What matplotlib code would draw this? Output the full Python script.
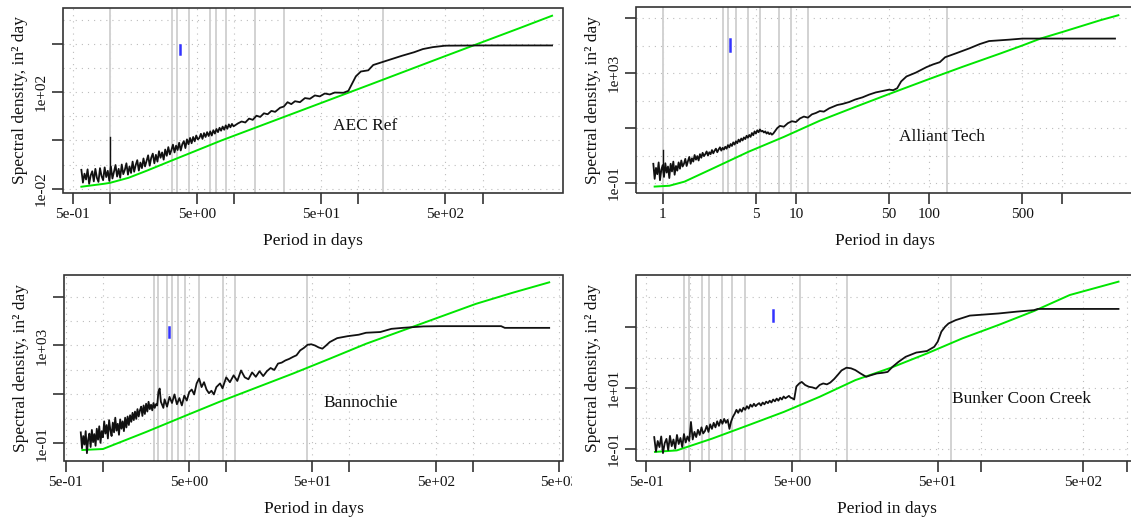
import numpy as np
import matplotlib
matplotlib.use("Agg")
import matplotlib.pyplot as plt
from matplotlib.patches import Rectangle
from matplotlib.ticker import NullLocator
from matplotlib.transforms import Bbox

plt.rcParams['font.family'] = ['Liberation Serif', 'DejaVu Serif']

# ---------------- data (log10 period in days, log10 spectral density) ----------------
# AEC Ref
aec_noise_span = (-0.23, 0.995)
aec_noise_logS = [-1.22, -1.75, -1.38, -1.62, -1.20, -1.80, -1.45, -1.28, -1.70, -1.18,
                  -1.55, -1.72, -1.15, -1.48, -1.65, -1.12, -1.52, -1.26, -1.68,
                  -1.08, -1.58, -1.30, -1.02, -1.50, -1.18, -1.55, -1.00, -1.40, -1.22,
                  -0.95, -1.42, -1.08, -1.35, -0.88, -1.30, -1.02, -0.82, -1.25, -0.92,
                  -1.15, -0.75, -1.08, -0.85,
                  -0.62, -1.05, -0.72, -0.55, -0.95, -0.60, -0.88, -0.45, -0.72, -0.50,
                  -0.80, -0.38, -0.64, -0.28, -0.58, -0.40, -0.18, -0.50, -0.22, -0.40,
                  -0.10, -0.42, -0.16, -0.03, -0.32, 0.04, -0.16, 0.10, -0.12, 0.14,
                  -0.04, 0.20, 0.04, 0.10, 0.27, 0.06, 0.30, 0.14, 0.34, 0.18,
                  0.37, 0.20, 0.42, 0.28, 0.47, 0.34, 0.52, 0.40, 0.57, 0.44, 0.62, 0.48,
                  0.66, 0.54, 0.68, 0.58]
aec_logp = [1.03, 1.06, 1.09, 1.12, 1.15, 1.18, 1.21, 1.24, 1.27, 1.30, 1.33, 1.37, 1.40,
            1.43, 1.46, 1.49, 1.53, 1.57, 1.61, 1.65, 1.69, 1.73, 1.77, 1.81, 1.88, 1.92,
            1.95, 1.98, 2.02, 2.08, 2.12, 2.18, 2.26, 2.35, 2.45, 2.52, 2.60, 2.70, 3.00, 3.56]
aec_logS = [0.70, 0.78, 0.74, 0.90, 0.85, 1.02, 0.97, 1.12, 1.08, 1.22, 1.18, 1.35, 1.40,
            1.58, 1.50, 1.62, 1.58, 1.75, 1.72, 1.86, 1.82, 1.94, 1.90, 1.98, 1.97, 2.05,
            2.35, 2.65, 2.85, 2.90, 3.12, 3.22, 3.35, 3.50, 3.65, 3.78, 3.86, 3.92, 3.93, 3.93]
aec_green_logp = [-0.23, -0.05, 0.0, 0.15, 0.30, 0.50, 0.90, 1.50, 2.10, 2.70, 3.30, 3.56]
aec_green_logS = [-1.92, -1.80, -1.76, -1.55, -1.25, -0.83, 0.00, 1.16, 2.32, 3.49, 4.65, 5.16]
aec_peak = (1.0, -1.35, 0.13)
aec_periods = [1.0, 3.17, 3.46, 4.3, 6.45, 7.15, 8.65, 14.6, 25.1, 157]
aec_ci = (3.66, 3.57, 3.96)

# Alliant Tech
all_noise_span = (-0.07, 0.83)
all_noise_logS = [-0.30, -0.85, -0.45, -0.68, -0.25, -0.90, -0.52, -0.35, -0.78, -0.28,
                  -0.62, -0.40, -0.82, -0.30, -0.58, -0.22, -0.70, -0.38,
                  -0.55, -0.25, -0.48, -0.18, -0.40, -0.30, -0.12, -0.38, -0.20, -0.05,
                  -0.30, -0.10, -0.22, 0.02, -0.15, -0.02, -0.18, 0.05,
                  -0.08, 0.10, -0.02, 0.05, 0.15, 0.00, 0.12, 0.05, 0.20, 0.08,
                  0.18, 0.25, 0.12, 0.22, 0.30, 0.18, 0.28, 0.22,
                  0.32, 0.25, 0.38, 0.30, 0.42, 0.35, 0.48, 0.40, 0.52, 0.45,
                  0.58, 0.50, 0.62, 0.55, 0.66, 0.60, 0.72, 0.65,
                  0.75, 0.68, 0.82, 0.74, 0.88, 0.80, 0.92, 0.85, 0.95, 0.88,
                  0.90, 0.84, 0.88, 0.80, 0.85, 0.78, 0.82, 0.76, 0.80]
all_logp = [0.86, 0.88, 0.91, 0.94, 0.97, 1.00, 1.03, 1.06, 1.09, 1.12, 1.15, 1.18, 1.21,
            1.25, 1.28, 1.31, 1.35, 1.40, 1.445, 1.50, 1.55, 1.60, 1.65, 1.70, 1.73, 1.76,
            1.79, 1.83, 1.90, 1.98, 2.03, 2.08, 2.12, 2.20, 2.30, 2.38, 2.45, 2.60, 2.70, 3.395]
all_logS = [1.00, 1.08, 1.05, 1.18, 1.25, 1.22, 1.35, 1.42, 1.38, 1.50, 1.55, 1.62, 1.60,
            1.72, 1.78, 1.84, 1.88, 1.95, 2.04, 2.12, 2.22, 2.30, 2.35, 2.40, 2.38, 2.45,
            2.70, 2.88, 3.02, 3.22, 3.32, 3.40, 3.58, 3.72, 3.90, 4.06, 4.17, 4.22, 4.26, 4.26]
all_green_logp = [-0.06, 0.05, 0.164, 0.377, 0.645, 0.91, 1.18, 1.445, 1.71, 1.98, 2.25, 2.536, 2.706, 2.836, 3.0, 3.286, 3.42]
all_green_logS = [-1.13, -1.10, -0.95, -0.47, 0.14, 0.68, 1.27, 1.77, 2.26, 2.75, 3.23, 3.72, 4.02, 4.26, 4.50, 4.93, 5.11]
all_peak = (1.0, -0.6, 0.2)
all_periods = [1.0, 2.85, 3.08, 3.53, 4.34, 5.38, 7.43, 9.2, 12.4, 135]
all_ci = (3.22, 3.82, 4.24)

# Bannochie
ban_noise_span = (-0.18, 0.43)
ban_noise_logS = [-0.55, -1.20, -0.70, -1.05, -0.50, -1.40, -0.85, -0.60, -1.15, -0.45,
                  -0.95, -0.62, -1.10, -0.40, -0.85, -0.30, -0.98, -0.50,
                  -0.75, -0.10, -0.60, -0.25, -0.80, -0.05, -0.45, -0.70, -0.15, -0.55,
                  0.05, -0.48, -0.20, -0.65, -0.02, -0.40, -0.10, -0.50,
                  0.05, -0.35, 0.10, -0.25, 0.15, -0.12, 0.25, -0.05, 0.30, 0.00,
                  0.40, 0.10, 0.35, 0.50, 0.12, 0.55, 0.20,
                  0.62, 0.30, 0.70, 0.40, 0.58, 0.35, 0.65, 0.45, 0.60]
ban_logp = [0.44, 0.45, 0.46, 0.47, 0.49, 0.50, 0.52, 0.54, 0.56, 0.58, 0.60, 0.62, 0.64,
            0.66, 0.68, 0.70, 0.72, 0.74, 0.76, 0.78, 0.80, 0.82, 0.84, 0.86, 0.88, 0.90,
            0.92, 0.95, 0.97, 1.00, 1.03, 1.06, 1.09, 1.12, 1.15, 1.18, 1.21, 1.24, 1.27,
            1.30, 1.33, 1.36, 1.39, 1.42, 1.45, 1.48, 1.51, 1.54, 1.57, 1.60, 1.63, 1.66,
            1.69, 1.72, 1.75, 1.78, 1.81, 1.84, 1.90, 1.985, 2.075, 2.134, 2.25, 2.34,
            2.43, 2.60, 2.73, 3.23, 3.26, 3.62]
ban_logS = [0.55, 1.10, 1.24, 0.70, 0.45, 0.80, 0.50, 0.90, 0.65, 1.00, 0.60, 0.85, 0.55,
            0.95, 0.75, 1.10, 1.20, 1.00, 1.45, 1.65, 1.30, 1.50, 1.20, 1.05, 1.15, 1.00,
            1.30, 1.45, 1.25, 1.70, 1.50, 1.78, 1.55, 1.98, 1.70, 1.62, 1.90, 1.72, 1.95,
            1.75, 1.95, 2.08, 2.00, 2.26, 2.30, 2.39, 2.45, 2.53, 2.60, 2.80, 2.90, 3.03,
            3.05, 3.00, 2.92, 2.87, 3.00, 3.14, 3.30, 3.38, 3.44, 3.52, 3.55, 3.68,
            3.72, 3.78, 3.79, 3.79, 3.72, 3.72]
ban_green_logp = [-0.167, 0.0, 0.352, 0.65, 0.946, 1.24, 1.54, 1.84, 2.134, 2.43, 2.73, 3.025, 3.32, 3.62]
ban_green_logS = [-1.27, -1.23, -0.53, 0.09, 0.70, 1.27, 1.85, 2.46, 3.07, 3.61, 4.16, 4.70, 5.15, 5.58]
ban_periods = [2.58, 2.80, 3.28, 3.63, 4.08, 4.62, 6.07, 9.46, 11.8, 45]
ban_ci = (3.46, 3.34, 3.75)

# Bunker Coon Creek
bun_noise_span = (-0.245, 0.715)
bun_noise_logS = [-0.62, -1.10, -0.75, -0.95, -0.60, -1.15, -0.82, -0.68, -1.05, -0.58,
                  -0.92, -0.70, -1.00, -0.55, -0.85, -0.65, -0.95, -0.52, -0.80, -0.60,
                  -0.75, -0.12, -0.70, -0.45, -0.62, -0.38, -0.55, -0.30, -0.50, -0.42,
                  -0.25, -0.45, -0.20, -0.35, -0.15, -0.30, -0.10, -0.25, -0.05, -0.18,
                  -0.02, -0.15, -0.05, -0.35, -0.10, 0.05, 0.15, 0.28, 0.18, 0.30,
                  0.22, 0.35, 0.28, 0.40, 0.32, 0.45, 0.38, 0.48, 0.40, 0.46,
                  0.50, 0.42, 0.52, 0.46, 0.55, 0.50, 0.58, 0.52, 0.62, 0.56,
                  0.65, 0.58, 0.68, 0.62, 0.72, 0.66, 0.70, 0.74, 0.68, 0.66, 0.62]
bun_logp = [0.73, 0.75, 0.767, 0.79, 0.816, 0.84, 0.865, 0.89, 0.914, 0.94, 0.963, 0.99,
            1.012, 1.04, 1.074, 1.105, 1.135, 1.17, 1.209, 1.24, 1.283, 1.32, 1.356, 1.39,
            1.43, 1.48, 1.553, 1.626, 1.676, 1.70, 1.725, 1.75, 1.774, 1.823, 1.92, 2.117,
            2.24, 2.36, 2.387, 2.94]
bun_logS = [1.05, 1.15, 1.20, 1.10, 1.04, 1.02, 0.98, 1.10, 1.15, 1.12, 1.18, 1.30,
            1.42, 1.58, 1.67, 1.65, 1.59, 1.48, 1.37, 1.42, 1.48, 1.50, 1.53, 1.70,
            1.86, 2.03, 2.17, 2.22, 2.36, 2.53, 2.86, 3.02, 3.13, 3.24, 3.39, 3.46,
            3.52, 3.57, 3.61, 3.61]
bun_green_logp = [-0.24, -0.09, 0.153, 0.40, 0.644, 0.89, 1.135, 1.38, 1.626, 1.87, 2.117, 2.36, 2.606, 2.94]
bun_green_logS = [-1.11, -1.06, -0.67, -0.23, 0.21, 0.71, 1.26, 1.67, 2.14, 2.64, 3.08, 3.54, 4.07, 4.51]
bun_periods = [0.916, 0.99, 1.21, 1.35, 1.66, 1.94, 2.37, 5.69, 12.0, 61.8]
bun_ci = (3.72, 3.21, 3.57)

W, H = 1131, 525
fig = plt.figure(figsize=(W / 100, H / 100), dpi=100)
INK = '#333333'


def panel(box, xlim, ylim, noise_span, noise_logS, logp, logS, g_logp, g_logS,
          periods, ci, name, name_xy, xticks, xlabels, yticks, ylabels, peak=None):
    l, t, r, b = box
    ax = fig.add_axes([l / W, 1 - b / H, (r - l) / W, (b - t) / H])
    ax.set_xscale('log')
    ax.set_yscale('log')
    ax.set_xlim(10 ** xlim[0], 10 ** xlim[1])
    ax.set_ylim(10 ** ylim[0], 10 ** ylim[1])
    for s in ax.spines.values():
        s.set_visible(False)
    ax.add_patch(Rectangle((0, 0), 1, 1, transform=ax.transAxes, fill=False,
                           edgecolor=INK, lw=1.2, clip_on=False, zorder=6))

    # dotted grid
    for d in range(int(np.floor(ylim[0])), int(np.ceil(ylim[1])) + 1):
        ax.axhline(10.0 ** d, color='#bdbdbd', lw=0.8, ls=(0, (1, 4.5)), zorder=0)
    for xt in xticks:
        ax.axvline(xt, color='#bdbdbd', lw=0.8, ls=(0, (1, 4.5)), zorder=0)

    # marked periods
    for p in periods:
        ax.axvline(p, color='#d2d2d2', lw=1.4, zorder=1)

    # spectrum
    nx = np.linspace(noise_span[0], noise_span[1], len(noise_logS))
    xs = 10 ** np.concatenate([nx, logp])
    ys = 10 ** np.concatenate([noise_logS, logS])
    ax.plot(10 ** np.array(g_logp), 10 ** np.array(g_logS), color='#00e600', lw=1.4, zorder=2)
    ax.plot(xs, ys, color='#111111', lw=1.3, zorder=3)
    if peak is not None:
        ax.plot([peak[0], peak[0]], [10 ** peak[1], 10 ** peak[2]], color='#111111', lw=1.0, zorder=3)

    # confidence bar
    ax.plot([ci[0], ci[0]], [10 ** ci[1], 10 ** ci[2]], color='#3333ff', lw=1.8, zorder=5)

    ax.text(10 ** name_xy[0], 10 ** name_xy[1], name, ha='center', va='center',
            fontsize=12.5, color='#111111', zorder=7)

    ax.set_xticks(xticks)
    ax.set_xticklabels(xlabels)
    ax.set_yticks(yticks)
    ax.set_yticklabels(ylabels, rotation=90, va='center')
    ax.xaxis.set_minor_locator(NullLocator())
    ax.yaxis.set_minor_locator(NullLocator())
    ax.tick_params(direction='out', length=8, width=1.2, color=INK, labelsize=11,
                   labelcolor='#111111', pad=3)

    fig.text((l + r) / 2 / W, 1 - (b + 48) / H, 'Period in days', ha='center', va='center',
             fontsize=12.5, color='#111111')
    fig.text((l - 43) / W, 1 - (t + b) / 2 / H, 'Spectral density, in² day', ha='center',
             va='center', rotation=90, fontsize=12.5, color='#111111')
    return ax


x4 = [0.5, 1, 5, 10, 50, 100, 500, 1000]

panel((63, 8, 563, 193), (-0.378, 3.648), (-2.18, 5.48),
      aec_noise_span, aec_noise_logS, aec_logp, aec_logS, aec_green_logp, aec_green_logS,
      aec_periods, aec_ci, 'AEC Ref', (2.057, 0.61),
      x4, ['5e-01', '', '5e+00', '', '5e+01', '', '5e+02', ''],
      [1e-2, 1, 1e2, 1e4], ['1e-02', '', '1e+02', ''], peak=aec_peak)

panel((636, 7, 1133, 193), (-0.2, 3.53), (-1.364, 5.41),
      all_noise_span, all_noise_logS, all_logp, all_logS, all_green_logp, all_green_logS,
      all_periods, all_ci, 'Alliant Tech', (2.10, 0.67),
      [1, 5, 10, 50, 100, 500, 1000], ['1', '5', '10', '50', '100', '500', ''],
      [1e-1, 1e1, 1e3, 1e5], ['1e-01', '', '1e+03', ''], peak=all_peak)

ax3 = panel((64, 275, 563, 461), (-0.316, 3.732), (-1.72, 5.88),
            ban_noise_span, ban_noise_logS, ban_logp, ban_logS, ban_green_logp, ban_green_logS,
            ban_periods, ban_ci, 'Bannochie', (2.09, 0.63),
            x4 + [5000], ['5e-01', '', '5e+00', '', '5e+01', '', '5e+02', '', '5e+03'],
            [1e-1, 1e1, 1e3, 1e5], ['1e-01', '', '1e+03', ''])
for lab in ax3.get_xticklabels():
    lab.set_clip_on(True)
    lab.set_clip_box(Bbox.from_extents(0, 0, 572, H))

panel((636, 275, 1137, 461), (-0.37, 3.067), (-1.41, 4.73),
      bun_noise_span, bun_noise_logS, bun_logp, bun_logS, bun_green_logp, bun_green_logS,
      bun_periods, bun_ci, 'Bunker Coon Creek', (2.277, 0.65),
      x4, ['5e-01', '', '5e+00', '', '5e+01', '', '5e+02', ''],
      [1e-1, 1e1, 1e3], ['1e-01', '1e+01', ''])

fig.savefig('out.png', dpi=100)
